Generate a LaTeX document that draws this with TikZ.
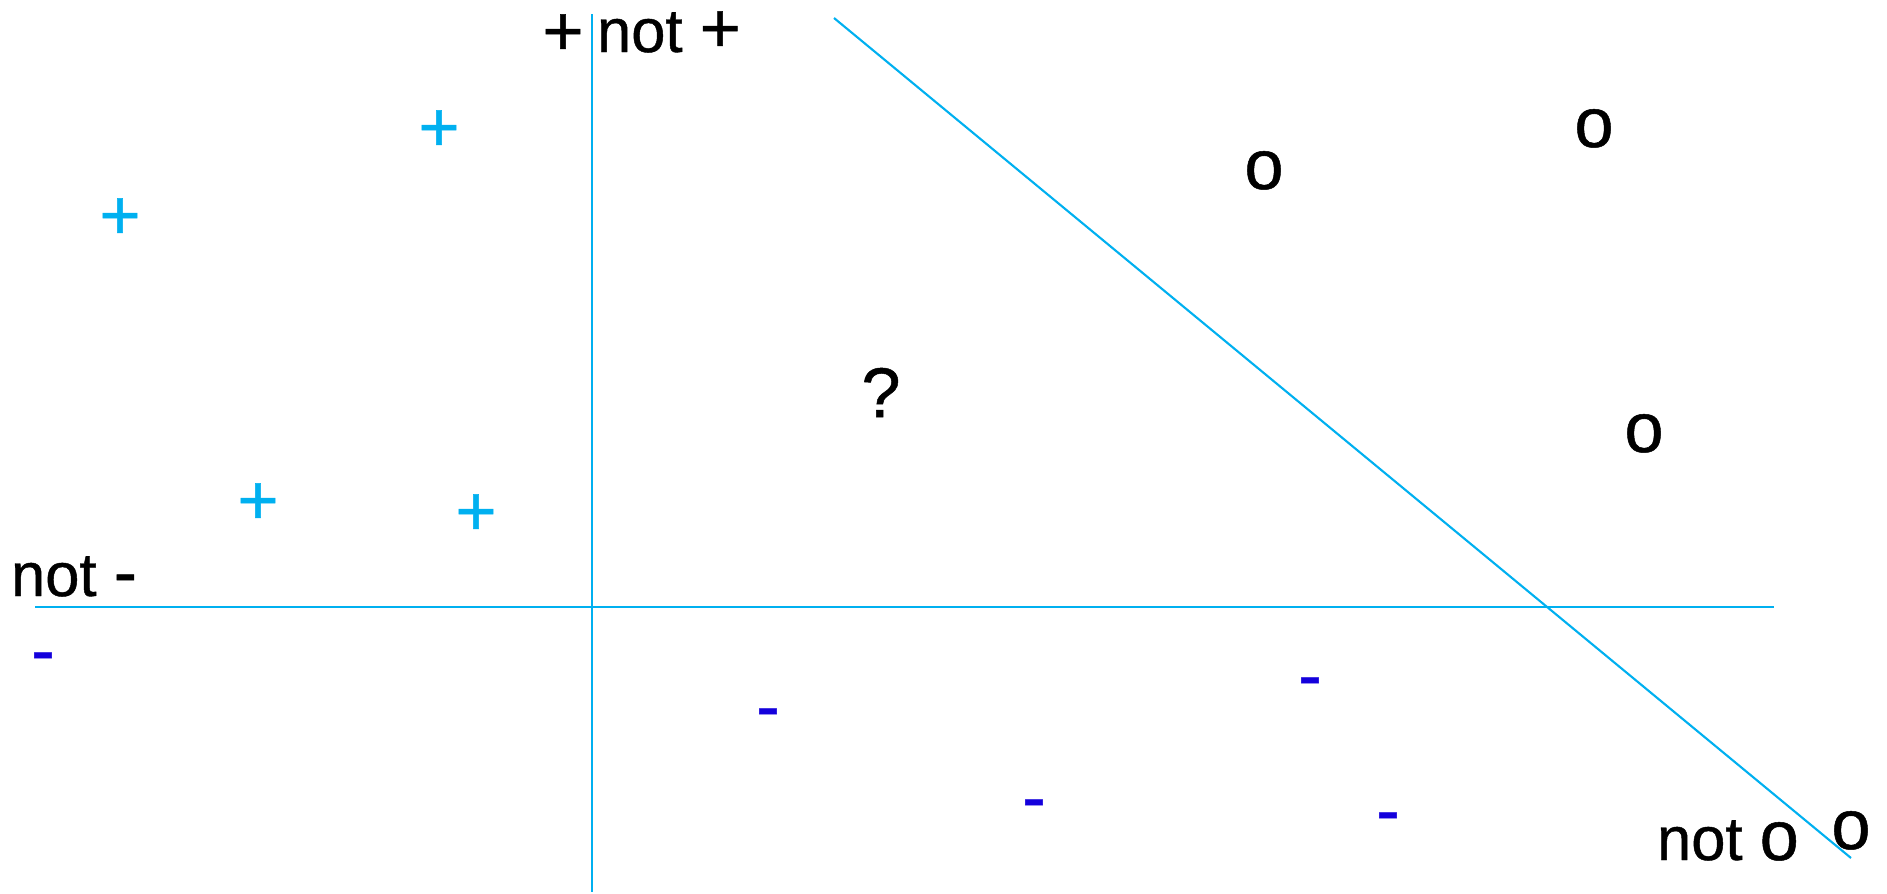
\documentclass[tikz,border=0pt]{standalone}
\usepackage{fontspec}
\setmainfont{Liberation Sans}[FakeBold=0.7]
\definecolor{linecyan}{RGB}{0,176,240}
\definecolor{dashblue}{RGB}{20,0,220}
\newcommand{\symsize}{\fontsize{20}{22}\selectfont}
\tikzset{
  lbl/.style={inner sep=0pt, outer sep=0pt, anchor=base, font=\symsize},
  lblw/.style={inner sep=0pt, outer sep=0pt, anchor=base west, font=\fontsize{17.5}{21}\selectfont},
  pluslbl/.style={lbl, text=linecyan},
  minuslbl/.style={lbl, text=dashblue},
  axis/.style={draw=linecyan, line width=0.6pt}
}
\begin{document}
\begin{tikzpicture}[x=0.01cm, y=-0.01cm]
\useasboundingbox (0,0) rectangle (1887,893);
% lines
\coordinate (vtop) at (592,14);
\coordinate (vbot) at (592,892);
\coordinate (hleft) at (35,607);
\coordinate (hright) at (1774,607);
\coordinate (dtop) at (834,18);
\coordinate (dbot) at (1851,858);
\draw[axis] (vtop) -- (vbot);
\draw[axis] (hleft) -- (hright);
\draw[axis] (dtop) -- (dbot);
% black labels
\node[lbl] (plusA) at (563,55) {+};
\node[lblw] (notplus) at (597,52) {not {\symsize +}};
\node[lblw] (notminus) at (11,596) {not {\symsize -}};
\node[lblw] (noto) at (1657,860) {not {\symsize o}};
\node[lbl] (q) at (881,417) {?};
\node[lbl] (o1) at (1264,189) {o};
\node[lbl] (o2) at (1594,147) {o};
\node[lbl] (o3) at (1644,452) {o};
\node[lbl] (o4) at (1851,849) {o};
% blue pluses
\node[pluslbl] (p1) at (439,151) {+};
\node[pluslbl] (p2) at (120,239) {+};
\node[pluslbl] (p3) at (258,524) {+};
\node[pluslbl] (p4) at (476,535) {+};
% dark blue minuses
\node[minuslbl] (m1) at (43,674) {-};
\node[minuslbl] (m2) at (768,730) {-};
\node[minuslbl] (m3) at (1034,821) {-};
\node[minuslbl] (m4) at (1310,699) {-};
\node[minuslbl] (m5) at (1388,834) {-};
\end{tikzpicture}
\end{document}
